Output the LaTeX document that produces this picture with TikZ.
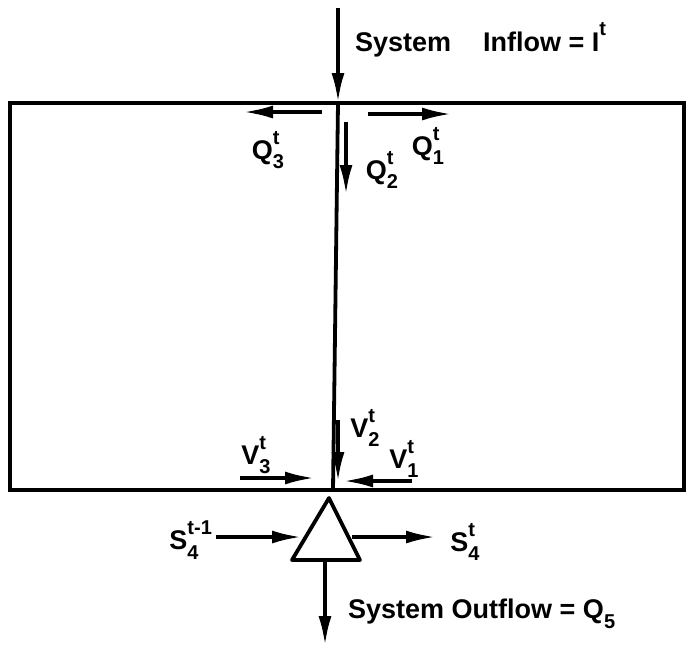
\documentclass[tikz,border=0pt]{standalone}
\usepackage{fontspec}
\setmainfont{Liberation Sans}
\usetikzlibrary{arrows.meta}
\newcommand\smallfnt{\fontsize{20}{20}\selectfont}
\newcommand\supsub[3]{#1\makebox[0pt][l]{\raisebox{0.55em}{\smallfnt #3}}\raisebox{-0.35em}{\smallfnt #2}}
\begin{document}
\begin{tikzpicture}[x=1pt,y=-1pt,
  line/.style={line width=3.8pt},
  flow/.style={line width=3.8pt,-{Latex[length=30pt,width=13pt]}},
  lbl/.style={font=\bfseries\fontsize{27}{29}\selectfont,inner sep=0pt}]
\useasboundingbox (0,0) rectangle (686,657);
% box
\coordinate (tl) at (10,103);
\coordinate (tr) at (684,103);
\coordinate (bl) at (10,490);
\coordinate (br) at (684,490);
\draw[line] (tl) -- (tr) -- (br) -- (bl) -- cycle;
% inflow
\coordinate (inTop) at (338,8);
\coordinate (junTop) at (338,103);
\coordinate (junBot) at (333,490);
\draw[flow] (inTop) -- (junTop);
\draw[line] (junTop) -- (junBot);
\node[lbl,anchor=west] (inflow) at (355,40) {System\hspace{0.9em} Inflow = I\raisebox{0.6em}{\smallfnt t}};
% Q arrows
\coordinate (q3s) at (322,112); \coordinate (q3e) at (243,112);
\draw[flow] (q3s) -- (q3e);
\node[lbl] (q3) at (268,150) {\supsub{Q}{3}{t}};
\coordinate (q1s) at (368,114); \coordinate (q1e) at (452,114);
\draw[flow] (q1s) -- (q1e);
\node[lbl] (q1) at (428,146) {\supsub{Q}{1}{t}};
\coordinate (q2s) at (346,122); \coordinate (q2e) at (346,195);
\draw[flow] (q2s) -- (q2e);
\node[lbl] (q2) at (382,170) {\supsub{Q}{2}{t}};
% V arrows
\coordinate (v3s) at (240,478); \coordinate (v3e) at (315,478);
\draw[flow] (v3s) -- (v3e);
\node[lbl] (v3) at (256,455) {\supsub{V}{3}{t}};
\coordinate (v1s) at (412,481); \coordinate (v1e) at (343,481);
\draw[flow] (v1s) -- (v1e);
\node[lbl] (v1) at (404,459) {\supsub{V}{1}{t}};
\coordinate (v2s) at (338,420); \coordinate (v2e) at (338,482);
\draw[flow] (v2s) -- (v2e);
\node[lbl] (v2) at (365,428) {\supsub{V}{2}{t}};
% reservoir triangle
\coordinate (ta) at (329,498);
\coordinate (tb1) at (292,560);
\coordinate (tb2) at (360,560);
\draw[line,line join=round] (ta) -- (tb2) -- (tb1) -- cycle;
% storage arrows
\node[lbl] (s4a) at (184,540) {S\makebox[0pt][l]{\raisebox{0.55em}{\smallfnt t-1}}\raisebox{-0.35em}{\smallfnt 4}\hspace{1.3em}};
\coordinate (sas) at (216,537); \coordinate (sae) at (302,537);
\draw[flow] (sas) -- (sae);
\coordinate (sbs) at (352,537); \coordinate (sbe) at (436,537);
\draw[flow] (sbs) -- (sbe);
\node[lbl] (s4b) at (465,542) {\supsub{S}{4}{t}};
% outflow
\coordinate (outs) at (325,562); \coordinate (oute) at (325,646);
\draw[flow] (outs) -- (oute);
\node[lbl,anchor=west] (outflow) at (348,614) {System Outflow = Q\raisebox{-0.35em}{\smallfnt 5}};
\end{tikzpicture}
\end{document}
